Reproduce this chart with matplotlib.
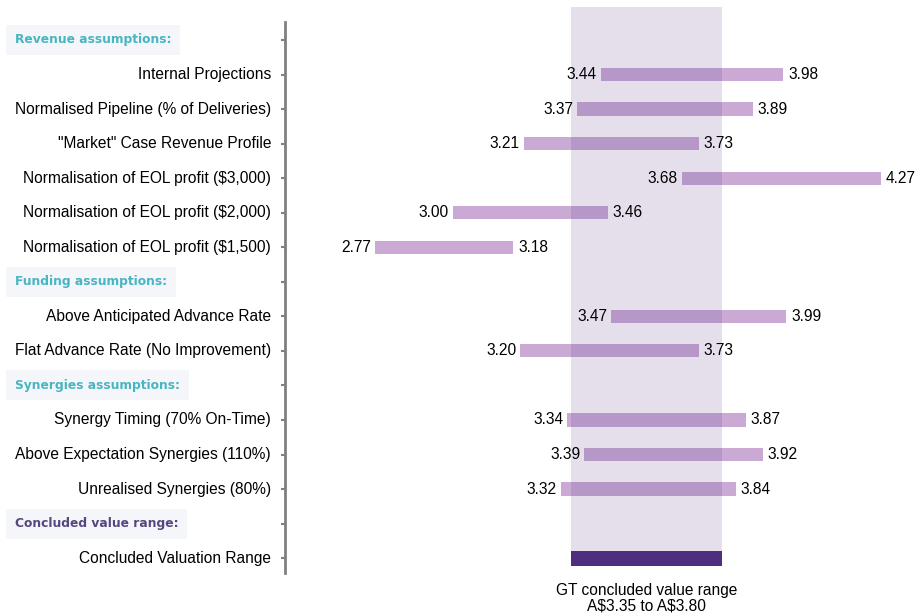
import numpy as np
import matplotlib
matplotlib.use("Agg")
import matplotlib.pyplot as plt
import matplotlib.transforms as mtransforms
from matplotlib import font_manager

# data
headers = ["Revenue assumptions:", "Funding assumptions:",
           "Synergies assumptions:", "Concluded value range:"]
header_rows = [0, 7, 10, 14]
labels = ["Internal Projections",
          "Normalised Pipeline (% of Deliveries)",
          "\"Market\" Case Revenue Profile",
          "Normalisation of EOL profit (\\$3,000)",
          "Normalisation of EOL profit (\\$2,000)",
          "Normalisation of EOL profit (\\$1,500)",
          "Above Anticipated Advance Rate",
          "Flat Advance Rate (No Improvement)",
          "Synergy Timing (70% On-Time)",
          "Above Expectation Synergies (110%)",
          "Unrealised Synergies (80%)"]
label_rows = [1, 2, 3, 4, 5, 6, 8, 9, 11, 12, 13]
lows = [3.44, 3.37, 3.21, 3.68, 3.00, 2.77, 3.47, 3.20, 3.34, 3.39, 3.32]
highs = [3.98, 3.89, 3.73, 4.27, 3.46, 3.18, 3.99, 3.73, 3.87, 3.92, 3.84]
concl_label = "Concluded Valuation Range"
concl_row = 15
concl_low, concl_high = 3.35, 3.80

names = {f.name for f in font_manager.fontManager.ttflist}
narrow = "Liberation Sans Narrow" if "Liberation Sans Narrow" in names else "Liberation Sans"
fs = 12.5 if narrow == "Liberation Sans Narrow" else 11.2

fig = plt.figure(figsize=(9.21, 6.15), dpi=100)
ax = fig.add_axes([285 / 921, 1 - 573 / 615, 1 - 285 / 921, (573 - 22) / 615])
ax.set_xlim(2.502, 4.39)
ax.set_ylim(15.43, -0.52)

# concluded band
ax.bar(x=concl_low, height=15.22 + 0.96, bottom=-0.96, width=concl_high - concl_low,
       align="edge", color="#e5dfec", zorder=1, clip_on=False)

rows = np.array(label_rows)
lo = np.array(lows)
hi = np.array(highs)
ax.barh(rows, hi - lo, left=lo, height=0.38, color="#cba9d5", zorder=2)
# darker overlap inside the band
olo = np.maximum(lo, concl_low)
ohi = np.minimum(hi, concl_high)
ax.barh(rows, np.clip(ohi - olo, 0, None), left=olo, height=0.38, color="#b597c8", zorder=3)
ax.barh([concl_row], [concl_high - concl_low], left=concl_low, height=0.44,
        color="#4f2d7f", zorder=3)

for r, a, b in zip(label_rows, lows, highs):
    ax.text(a - 0.012, r, "%.2f" % a, ha="right", va="center", fontsize=fs,
            family=narrow, zorder=4)
    ax.text(b + 0.015, r, "%.2f" % b, ha="left", va="center", fontsize=fs,
            family=narrow, zorder=4)

# row labels
tr = mtransforms.blended_transform_factory(fig.transFigure, ax.transData)
for r, t in zip(label_rows + [concl_row], labels + [concl_label]):
    ax.text(271 / 921, r, t, transform=tr, ha="right", va="center",
            fontsize=fs, family=narrow)
hcols = ["#47b6c2", "#47b6c2", "#47b6c2", "#57467f"]
for r, t, c in zip(header_rows, headers, hcols):
    ax.text(15 / 921, r, t, transform=tr, ha="left", va="center", fontsize=8.8,
            fontweight="bold", color=c,
            bbox=dict(boxstyle="square,pad=0.7", facecolor="#f4f6f9", edgecolor="none"))

ax.text((concl_low + concl_high) / 2, 15.72, "GT concluded value range\nA\\$3.35 to A\\$3.80",
        ha="center", va="top", fontsize=fs, family=narrow, linespacing=1.0,
        clip_on=False)

for s in ["top", "right", "bottom"]:
    ax.spines[s].set_visible(False)
ax.spines["left"].set_color("#808080")
ax.spines["left"].set_linewidth(2)
ax.set_xticks([])
ax.set_yticks(range(16))
ax.set_yticklabels([])
ax.tick_params(axis="y", length=3, width=1.5, color="#808080")

fig.savefig("out.png", dpi=100)
